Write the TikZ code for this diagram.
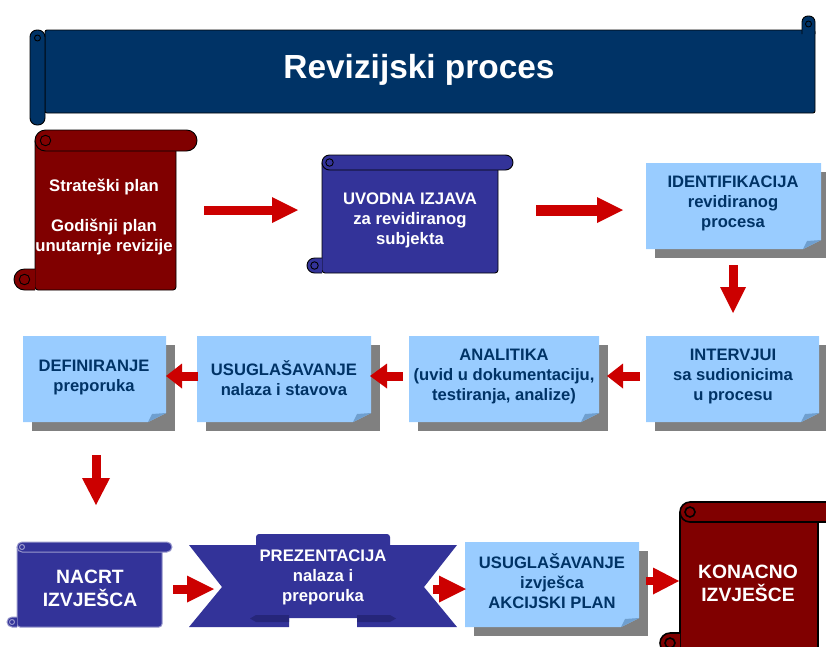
\documentclass[tikz,border=0pt]{standalone}
\usepackage{fontspec}
\setmainfont{Liberation Sans}
\usetikzlibrary{arrows.meta}
\definecolor{navy}{HTML}{003366}
\definecolor{maroonc}{HTML}{800000}
\definecolor{scrollblue}{HTML}{333399}
\definecolor{ribbondark}{HTML}{26267A}
\definecolor{lightbox}{HTML}{99CCFF}
\definecolor{foldc}{HTML}{6F9FCF}
\definecolor{shadowg}{HTML}{808080}
\definecolor{arrred}{HTML}{CC0000}
\definecolor{boxtxt}{HTML}{003366}
\definecolor{paleline}{HTML}{9999CC}

% vertical scroll: L T R B h fill outline-style
\newcommand\vscroll[7]{%
  \pgfmathsetmacro\rr{#5/2}%
  \pgfmathsetmacro\rc{#5*0.25}%
  \draw[#7, fill=#6, rounded corners=3pt] (#1,#2+#5/2) -- (#1,#4) -- (#3-#5,#4) -- (#3-#5,#2+#5/2);
  \draw[#7, fill=#6] (#1,#4-#5) [rounded corners=\rr pt] -- (#1-#5,#4-#5) -- (#1-#5,#4) [sharp corners] -- (#1,#4);
  \draw[#7] (#1-#5/2,#4-#5/2) circle (\rc pt);
  \draw[#7, fill=#6, rounded corners=\rr pt] (#1,#2) rectangle (#3,#2+#5);
  \draw[#7] (#1+#5/2,#2+#5/2) circle (\rc pt);
}
% note box with shadow and folded corner: L T R B
\newcommand\notebox[4]{%
  \fill[shadowg] (#1+9,#2+9) rectangle (#3+9,#4+9);
  \fill[lightbox] (#1,#2) -- (#3,#2) -- (#3,#4-9) -- (#3-18,#4) -- (#1,#4) -- cycle;
  \fill[foldc] (#3,#4-9) -- (#3-18,#4) -- (#3-14,#4-8) -- cycle;
}

\tikzset{
  scrolltxt/.style={text=white, font=\bfseries\fontsize{16.7}{20}\selectfont, align=center, inner sep=0pt},
  bigtxt/.style={text=white, font=\bfseries\fontsize{19.3}{23}\selectfont, align=center, inner sep=0pt},
  boxtext/.style={text=boxtxt, font=\bfseries\fontsize{16.6}{20}\selectfont, align=center, inner sep=0pt},
  titletxt/.style={text=white, font=\bfseries\fontsize{33.4}{40}\selectfont, inner sep=0pt},
  blockarr/.style={draw=arrred, line width=9pt,
    -{Triangle[width=26pt,length=26pt,line width=0pt]}},
  darkline/.style={draw=black, line width=0.9pt},
  paleedge/.style={draw=paleline, line width=1pt},
}

\begin{document}
\begin{tikzpicture}[x=1pt,y=-1pt]
\useasboundingbox (0,0) rectangle (826,646);
\clip (0,0) rectangle (826,646);

% ---------- title banner ----------
\draw[darkline, fill=navy, rounded corners=2pt] (45,30) rectangle (815,113);
\draw[darkline, fill=navy] (802,34) [rounded corners=6pt] -- (802,16) -- (815,16) [sharp corners] -- (815,34);
\draw[darkline] (808.5,24) circle (3pt);
\draw[darkline, fill=navy, rounded corners=7pt] (30,30) rectangle (45,125);
\draw[darkline] (37.5,38) circle (3pt);
\node[titletxt] (title) at (419,70) {Revizijski proces};

% ---------- row 1 ----------
\vscroll{35}{130}{197}{290}{21}{maroonc}{darkline}
\node[scrolltxt] (strat) at (104,217) {Strateški plan\\[20pt]Godišnji plan\\unutarnje revizije};

\vscroll{322}{155}{513}{273}{15}{scrollblue}{darkline}
\node[scrolltxt] (uvod) at (410,220) {UVODNA IZJAVA\\za revidiranog\\subjekta};

\notebox{646}{163}{821}{249}
\node[boxtext] (ident) at (733,203) {IDENTIFIKACIJA\\revidiranog\\procesa};

% ---------- row 2 ----------
\notebox{646}{336}{819}{422}
\node[boxtext] (interv) at (733,377) {INTERVJUI\\sa sudionicima\\u procesu};

\notebox{409}{336}{599}{422}
\node[boxtext] (anal) at (504,377) {ANALITIKA\\(uvid u dokumentaciju,\\testiranja, analize)};

\notebox{197}{336}{371}{422}
\node[boxtext] (usug1) at (284,378) {USUGLAŠAVANJE\\nalaza i stavova};

\notebox{23}{336}{166}{422}
\node[boxtext] (defin) at (94,378) {DEFINIRANJE\\preporuka};

% ---------- row 3 ----------
\vscroll{17}{542}{172}{627}{10}{scrollblue}{paleedge}
\node[bigtxt] (nacrt) at (90,588) {NACRT\\IZVJEŠCA};

\fill[scrollblue] (189,545) -- (289,545) -- (289,627) -- (189,627) -- (222,587) -- cycle;
\fill[scrollblue] (457,545) -- (357,545) -- (357,627) -- (457,627) -- (424,587) -- cycle;
\fill[scrollblue, rounded corners=3pt] (256,534) rectangle (390,618);
\fill[ribbondark] (256,615) -- (289,615) -- (289,622) -- (256,622) -- (250,618.5) -- cycle;
\fill[ribbondark] (357,615) -- (390,615) -- (396,618.5) -- (390,622) -- (357,622) -- cycle;
\node[scrolltxt] (prez) at (323,577) {PREZENTACIJA\\nalaza i\\preporuka};

\notebox{465}{542}{639}{627}
\node[boxtext] (usug2) at (552,581) {USUGLAŠAVANJE\\izvješca\\AKCIJSKI PLAN};

\vscroll{680}{502}{838}{653}{20}{maroonc}{draw=black, line width=1.6pt}
\node[bigtxt] (konac) at (748,583) {KONACNO\\IZVJEŠCE};

% ---------- arrows ----------
\coordinate (a1s) at (204,210);  \coordinate (a1e) at (298,210);
\coordinate (a2s) at (536,210);  \coordinate (a2e) at (623,210);
\coordinate (a3s) at (733,265);  \coordinate (a3e) at (733,313);
\coordinate (a4s) at (640,376);  \coordinate (a4e) at (607,376);
\coordinate (a5s) at (403,376);  \coordinate (a5e) at (370,376);
\coordinate (a6s) at (198,376);  \coordinate (a6e) at (166,376);
\coordinate (a7s) at (96,455);   \coordinate (a7e) at (96,505);
\coordinate (a8s) at (173,589);  \coordinate (a8e) at (214,589);
\coordinate (a9s) at (433,589);  \coordinate (a9e) at (466,589);
\coordinate (a10s) at (646,581); \coordinate (a10e) at (679,581);

\draw[blockarr] (a1s) -- (a1e);
\draw[blockarr, line width=11pt] (a2s) -- (a2e);
\draw[blockarr] (a3s) -- (a3e);
\draw[blockarr, -{Triangle[width=25pt,length=16pt,line width=0pt]}] (a4s) -- (a4e);
\draw[blockarr, -{Triangle[width=25pt,length=17pt,line width=0pt]}] (a5s) -- (a5e);
\draw[blockarr, -{Triangle[width=25pt,length=16pt,line width=0pt]}] (a6s) -- (a6e);
\draw[blockarr, -{Triangle[width=28pt,length=27pt,line width=0pt]}] (a7s) -- (a7e);
\draw[blockarr, -{Triangle[width=27pt,length=27pt,line width=0pt]}] (a8s) -- (a8e);
\draw[blockarr, -{Triangle[width=27pt,length=27pt,line width=0pt]}] (a9s) -- (a9e);
\draw[blockarr, line width=8pt, -{Triangle[width=27pt,length=26pt,line width=0pt]}] (a10s) -- (a10e);
\end{tikzpicture}
\end{document}
